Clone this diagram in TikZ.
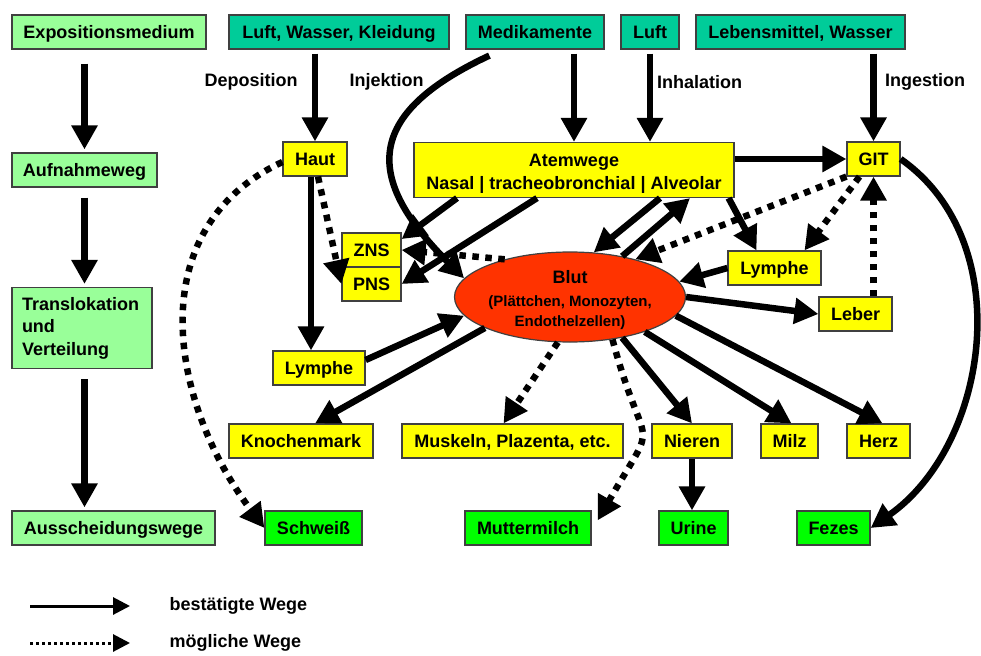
\documentclass[tikz,border=0pt]{standalone}
\usepackage{fontspec}
\setmainfont{Liberation Sans}
\usetikzlibrary{arrows.meta,shapes.geometric}
\definecolor{stagegreen}{HTML}{99FF99}
\definecolor{srcteal}{HTML}{00CC99}
\definecolor{organyellow}{HTML}{FFFF00}
\definecolor{exitgreen}{HTML}{00FF00}
\definecolor{blutred}{HTML}{FF3300}

\begin{document}
\begin{tikzpicture}[x=1pt,y=-1pt,
  box/.style={draw=black!75,line width=1.2pt,minimum height=34pt,inner sep=0pt,
    text height=13pt,text depth=0pt,
    font=\bfseries\fontsize{18}{23}\selectfont,align=center},
  stage/.style={box,fill=stagegreen},
  src/.style={box,fill=srcteal},
  organ/.style={box,fill=organyellow},
  exitbox/.style={box,fill=exitgreen},
  routelabel/.style={font=\bfseries\fontsize{18}{23}\selectfont},
  sure/.style={line width=6.5pt,-{Triangle[length=24pt,width=25pt]}},
  maybe/.style={sure,dash pattern=on 6.5pt off 6.5pt}]
  \path[use as bounding box,fill=white] (0,0) rectangle (981,655);
  % left column
  \node[stage,minimum width=194pt] (expo) at (109,32) {Expositionsmedium};
  \node[stage,minimum width=145pt] (aufn) at (84.5,170) {Aufnahmeweg};
  \node[stage,text height={},text depth={},text width=120pt,inner xsep=10pt,align=left,
    minimum height=81pt,font=\bfseries\fontsize{18}{22.5}\selectfont] (transl) at (82,328)
    {Translokation\\und\\Verteilung};
  \node[stage,minimum width=203pt] (aussch) at (113.5,528) {Ausscheidungswege};
  % sources
  \node[src,minimum width=220pt] (lwk) at (339,32) {Luft, Wasser, Kleidung};
  \node[src,minimum width=138pt] (medi) at (535,32) {Medikamente};
  \node[src,minimum width=58pt] (luft) at (650,32) {Luft};
  \node[src,minimum width=209pt] (lebm) at (800.5,32) {Lebensmittel, Wasser};
  \node[routelabel] (depo) at (251,82) {Deposition};
  \node[routelabel] (inj) at (386.5,82) {Injektion};
  \node[routelabel] (inh) at (699.5,82) {Inhalation};
  \node[routelabel] (ing) at (925,82) {Ingestion};
  % organs
  \node[organ,minimum width=64pt] (haut) at (315,159) {Haut};
  \node[organ,text height=39pt,minimum width=320pt,minimum height=55pt] (atem) at (574,170)
    {Atemwege\\Nasal | tracheobronchial | Alveolar};
  \node[organ,minimum width=53pt] (git) at (873.5,159) {GIT};
  \node[organ,minimum width=59pt] (zns) at (371.5,250) {ZNS};
  \node[organ,minimum width=59pt] (pns) at (371.5,284) {PNS};
  \node[ellipse,draw=black!75,line width=1.2pt,fill=blutred,minimum width=190pt,
    minimum height=90pt,inner sep=0pt,align=center,text height=59pt,text depth=0pt,
    font=\bfseries\fontsize{15}{20}\selectfont] (blut) at (570,297)
    {{\fontsize{18}{22}\selectfont Blut}\\[3pt](Plättchen, Monozyten,\\Endothelzellen)};
  \node[organ,minimum width=93pt] (lymr) at (774.5,268) {Lymphe};
  \node[organ,minimum width=73pt] (leber) at (855.5,314) {Leber};
  \node[organ,minimum width=92pt] (lyml) at (319,368) {Lymphe};
  \node[organ,minimum width=144pt] (knoch) at (301,441) {Knochenmark};
  \node[organ,minimum width=221pt] (musk) at (512.5,441) {Muskeln, Plazenta, etc.};
  \node[organ,minimum width=80pt] (nieren) at (692,441) {Nieren};
  \node[organ,minimum width=57pt] (milz) at (789.5,441) {Milz};
  \node[organ,minimum width=63pt] (herz) at (878.5,441) {Herz};
  % excretion
  \node[exitbox,minimum width=97pt] (schweiss) at (313.5,528) {Schweiß};
  \node[exitbox,minimum width=126pt] (mutter) at (528,528) {Muttermilch};
  \node[exitbox,minimum width=69pt] (urine) at (693.5,528) {Urine};
  \node[exitbox,minimum width=73pt] (fezes) at (833.5,528) {Fezes};
  % stage arrows
  \draw[sure,shorten <=14pt,shorten >=3pt] (expo.south -| aufn) -- (aufn.north);
  \draw[sure,shorten <=10pt,shorten >=3pt] (aufn.south) -- (aufn.south |- transl.north);
  \draw[sure,shorten <=10pt,shorten >=3pt] (aufn.south |- transl.south) -- (aufn.south |- aussch.north);
  % uptake
  \draw[sure,shorten <=4pt] (haut.north |- lwk.south) -- (haut.north);
  \draw[sure,shorten <=4pt] (atem.north |- medi.south) -- (atem.north);
  \draw[sure,shorten <=4pt] (luft.south) -- (luft.south |- atem.north);
  \draw[sure,shorten <=4pt] (git.north |- lebm.south) -- (git.north);
  \draw[sure] ([shift={(24,6)}]medi.south west) to[out=205,in=135,looseness=1.6] (blut.170);
  % Atemwege
  \draw[sure] (atem.east |- git.west) -- (git.west);
  \draw[sure] ([xshift=-117pt]atem.south) -- (zns.20);
  \draw[sure] ([xshift=-37pt]atem.south) -- (pns.east);
  \draw[sure] ([xshift=86pt]atem.south) -- (blut.62);
  \draw[sure] (blut.38) -- ([xshift=116pt]atem.south);
  \draw[sure] ([xshift=-6pt]atem.south east) -- ([xshift=-18pt]lymr.north);
  % Haut
  \draw[sure] ([xshift=-4pt]haut.south) -- ([xshift=-4pt]haut.south |- lyml.north);
  \draw[maybe] ([xshift=3pt]haut.south) -- (pns.west);
  \draw[maybe] ([yshift=-3pt]haut.west) to[out=205,in=127,looseness=1.1] (schweiss.west);
  % GIT
  \draw[maybe] (git.south west) -- (blut.30);
  \draw[maybe] ([xshift=-14pt]git.south) -- ([xshift=30pt]lymr.north);
  \draw[maybe] (git.south |- leber.north) -- (git.south);
  \draw[sure] (git.east) to[out=-35,in=35] (fezes.east);
  % Blut
  \draw[sure] (lymr.west) -- (blut.8);
  \draw[maybe] (blut.150) -- (zns.east);
  \draw[sure] (blut.east) -- (leber.west);
  \draw[sure] ([yshift=8pt]lyml.east) -- (blut.190);
  \draw[sure] (blut.200) -- ([xshift=14pt]knoch.north);
  \draw[maybe] (blut.255) -- ([xshift=-9pt]musk.north);
  \draw[maybe] (blut.315) to[out=-75,in=60,looseness=1.8] ([shift={(6,10)}]mutter.north east);
  \draw[sure] (blut.322) -- (nieren.north);
  \draw[sure] (blut.335) -- ([xshift=2pt]milz.north);
  \draw[sure] (blut.350) -- ([xshift=4pt]herz.north);
  \draw[sure] (nieren.south) -- (nieren.south |- urine.north);
  % legend
  \coordinate (sureA) at (30,606);
  \coordinate (sureB) at (130,606);
  \coordinate (maybeA) at (30,643);
  \coordinate (maybeB) at (130,643);
  \draw[line width=3pt,-{Triangle[length=17pt,width=17pt]}] (sureA) -- (sureB);
  \draw[line width=3pt,dash pattern=on 3pt off 3pt,-{Triangle[length=17pt,width=17pt]}] (maybeA) -- (maybeB);
  \node[routelabel,anchor=west] (sureL) at (166,606) {bestätigte Wege};
  \node[routelabel,anchor=west] (maybeL) at (166,643) {mögliche Wege};
\end{tikzpicture}
\end{document}
